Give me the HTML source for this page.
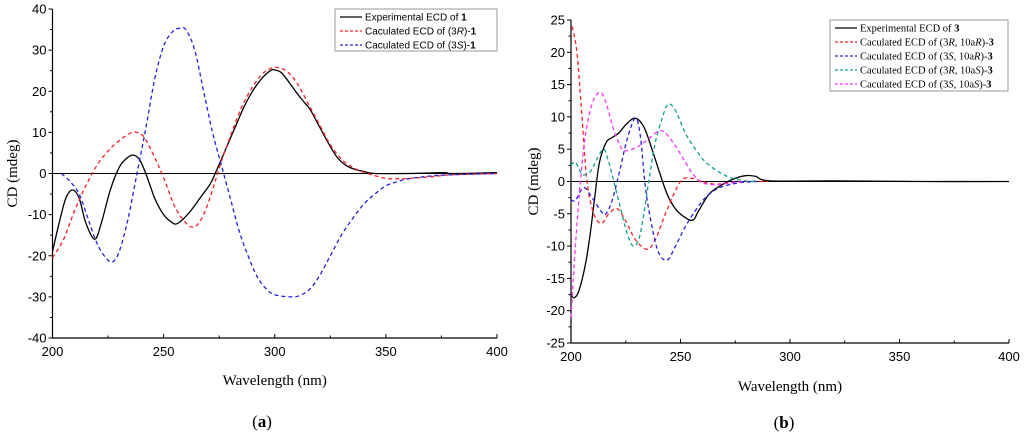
<!DOCTYPE html>
<html><head><meta charset="utf-8"><style>
html,body{margin:0;padding:0;background:#fff;}
svg{display:block;}
.sans{font-family:"Liberation Sans",sans-serif;}
.serif{font-family:"Liberation Serif",serif;}
</style></head><body>
<svg id="fig" width="1024" height="436" viewBox="0 0 1024 436" xmlns="http://www.w3.org/2000/svg">
<g id="pa"></g>
<g id="pb"></g>
</svg>
<script>
// Panel (a)
const aExpX=[200,203,206,209,212,215,219,222,226,230,233,236,239,242,246,250,254,256,259,263,267,271,274,278,282,286,290,294,298,300,303,306,310,313,316,320,324,328,332,336,340,345,360,376,380,400];
const aExpY=[-19,-12,-6,-4,-6,-12,-16,-12,-4,1.5,3.5,4.5,3.5,0,-6,-10,-12,-12.2,-11,-8.5,-5.5,-2.5,1,6,11,16,20,23,25,25.2,24.5,22.5,19.5,17.5,15.5,11.5,7.5,4,2,1,0.5,0,0,0.2,0,0.2];
const aRX=[200,205,210,215,220,225,230,235,238,241,245,250,255,260,264,268,272,276,280,285,290,295,300,305,310,315,320,325,330,335,340,345,350,355,360,370,380,400];
const aRY=[-20.5,-16,-9,-3,2,5.5,8,9.8,10,9,5,-1,-8,-12,-13,-10,-4,3,9,16,21,24.5,25.8,25,22,17,12,7,3.5,1.5,0.3,-0.5,-1.2,-1.3,-1.2,-0.8,-0.3,0];
const aSX=[204,208,212,216,220,224,227,230,234,238,242,246,250,254,257,260,264,268,272,276,280,284,288,292,296,300,308,312,316,320,325,330,335,340,345,350,355,360,370,380,400];
const aSY=[0,-2,-5,-11,-17,-20.5,-21.5,-19,-11,0,11,23,31,34.5,35.3,35,30,20,10,2,-6,-14,-20,-25,-28,-29.5,-30,-29.5,-28,-25,-20,-15,-11,-7.5,-5,-3,-2,-1.3,-0.6,-0.3,0];
const aYTicks=[40,30,20,10,0,-10,-20,-30,-40];
const aXTicks=[200,250,300,350,400];
// Panel (b)
const bExpX=[200,201.4,203.5,206.5,208.8,211,213,216,218.7,221.8,225.6,229.4,233.2,237,240.8,244.6,249.2,255.3,258.3,262.9,267.5,273.6,279.7,284.2,291,320,360,400];
const bExpY=[-17.5,-18,-17,-13,-8,-2,3,6,6.8,7.5,9,9.8,8.5,5,1,-2.5,-4.8,-6,-4.5,-2,-0.8,0.3,0.9,0.8,0.1,0.1,0,0];
const bRRX=[200.5,202.7,205,207.3,210.4,213.9,217.2,221,224.8,229.4,234.7,238.5,243.1,246.9,250.7,255.3,259.9,266,273.6,280,290];
const bRRY=[24,20,10,0,-5,-6.5,-5,-4.2,-6,-9,-10.5,-9,-5,-2,0.3,0.5,0,-0.4,-0.2,0,0];
const bSRX=[200,202,204.3,206.5,209.6,214.2,216,218.7,221.8,225.6,229.4,231.7,234,237,240,243.9,247.7,252.2,256.8,261.4,267.5,276.6,285];
const bSRY=[-2.8,-3,-1.5,-1,-2.5,-4.8,-5,-3,1,6.5,9.8,7,-1,-7,-11,-12.2,-10,-7,-4.5,-2.5,-1,-0.2,0];
const bRSX=[200,202,204.3,205.8,208.8,211.9,214.9,217.2,221.8,225.6,228.6,231.7,235.5,238.5,242.3,244.6,247.7,252.2,256.8,261.4,267.5,273.6,279.7,285];
const bRSY=[2.5,3,1.5,1,1.5,3.5,5,3,-3,-8,-10,-8,0,6,10.5,12,11,7.5,5,3,1.5,0.5,0.1,0];
const bSSX=[200,202,204.3,206.5,209.6,213,215.7,219.5,223.3,225.6,229.4,234,240,243.1,247.7,252.2,256,259.9,266,272,280];
const bSSY=[-21,-10,0,7,12,13.8,12.5,8,5,4.8,5.2,6.2,7.8,7.5,5.5,3,1,-0.2,-0.5,-0.2,0];
const bYTicks=[25,20,15,10,5,0,-5,-10,-15,-20,-25];
const bXTicks=[200,250,300,350,400];

const NS='http://www.w3.org/2000/svg';
function mk(parent,tag,attrs,text){const e=document.createElementNS(NS,tag);for(const k in attrs)e.setAttribute(k,attrs[k]);if(text!==undefined)e.textContent=text;parent.appendChild(e);return e;}
function spline(pts){let d='M'+pts[0][0].toFixed(1)+','+pts[0][1].toFixed(1);
 for(let i=0;i<pts.length-1;i++){const p0=pts[Math.max(0,i-1)],p1=pts[i],p2=pts[i+1],p3=pts[Math.min(pts.length-1,i+2)];
  const c1=[p1[0]+(p2[0]-p0[0])/6,p1[1]+(p2[1]-p0[1])/6],c2=[p2[0]-(p3[0]-p1[0])/6,p2[1]-(p3[1]-p1[1])/6];
  d+=' C'+c1[0].toFixed(1)+','+c1[1].toFixed(1)+' '+c2[0].toFixed(1)+','+c2[1].toFixed(1)+' '+p2[0].toFixed(1)+','+p2[1].toFixed(1);}
 return d;}

function panel(g,o){
 const xs=v=>o.x0+(v-200)/200*(o.x1-o.x0);
 const ys=v=>o.y0+(o.yMax-v)/(o.yMax-o.yMin)*(o.y1-o.y0);
 let e=mk(g,'line',{x1:o.x0,y1:o.y0,x2:o.x0,y2:o.y1,stroke:'#000','stroke-width':1.2});
 
 
 e=mk(g,'line',{x1:o.x0,y1:o.y1,x2:o.x1,y2:o.y1,stroke:'#000','stroke-width':1.2});
 
 
 e=mk(g,'line',{x1:o.x0,y1:ys(0),x2:o.x1,y2:ys(0),stroke:'#000','stroke-width':1});
 
 
 const ystep=o.yTicks[0]-o.yTicks[1];
 o.yTicks.forEach((t,i)=>{const y=ys(t);
  mk(g,'line',{x1:o.x0-4,y1:y,x2:o.x0,y2:y,stroke:'#000'});
  if(i<o.yTicks.length-1)mk(g,'line',{x1:o.x0-2.5,y1:ys(t-ystep/2),x2:o.x0,y2:ys(t-ystep/2),stroke:'#000'});
  e=mk(g,'text',{x:o.x0-6,y:y+4.5,'text-anchor':'end','font-size':13,class:'sans'},String(t));
  
  });
 o.xTicks.forEach((t,i)=>{const x=xs(t);
  mk(g,'line',{x1:x,y1:o.y1,x2:x,y2:o.y1-4,stroke:'#000'});
  if(i<o.xTicks.length-1)mk(g,'line',{x1:xs(t+25),y1:o.y1,x2:xs(t+25),y2:o.y1-2.5,stroke:'#000'});
  e=mk(g,'text',{x:x,y:o.y1+18,'text-anchor':'middle','font-size':13,class:'sans'},String(t));
  
  });
 e=mk(g,'text',{x:(o.x0+o.x1)/2,y:o.xLabelY,'text-anchor':'middle','font-size':15,class:'serif'},'Wavelength (nm)');
 
 
 e=mk(g,'text',{x:o.yLabelX,y:(o.y0+o.y1)/2,'text-anchor':'middle','font-size':15,class:'serif',transform:'rotate(-90 '+o.yLabelX+' '+(o.y0+o.y1)/2+')'},'CD (mdeg)');
 
 
 e=mk(g,'text',{x:o.capX,y:o.capY,'text-anchor':'middle','font-size':17,class:'serif'});
 e.innerHTML='(<tspan font-weight="bold">'+o.cap+'</tspan>)';
 
 
 o.series.forEach(s=>{const pts=s.x.map((v,i)=>[xs(v),ys(s.y[i])]);
  const p=mk(g,'path',{d:spline(pts),fill:'none',stroke:s.c,'stroke-width':1.3,'stroke-dasharray':s.dash?'4,3':'none'});
  
  });
 const L=o.leg;
 const lg=mk(g,'g',{});
 
 
 mk(lg,'rect',{x:L.x,y:L.y,width:L.w,height:L.h,fill:'#fff',stroke:'#999','stroke-width':1});
 o.series.forEach((s,i)=>{const y=L.y+L.dy*(i+0.5)+1;
  mk(lg,'line',{x1:L.x+5,y1:y,x2:L.x+27,y2:y,stroke:s.c,'stroke-width':1.3,'stroke-dasharray':s.dash?'3,2':'none'});
  const t=mk(lg,'text',{x:L.x+30,y:y+3.5,'font-size':L.fs,class:L.font});
  t.innerHTML=s.label;
  
  });
}

panel(document.getElementById('pa'),{x0:52.5,x1:497,y0:9,y1:338,yMax:40,yMin:-40,yTicks:aYTicks,xTicks:aXTicks,
 xLabelY:385,yLabelX:17,cap:'a',capX:262,capY:427,
 leg:{x:335,y:9,w:162,h:42,dy:14,fs:10,font:'sans'},
 series:[
  {name:'experimental-ecd-1',x:aExpX,y:aExpY,c:'#000',dash:false,label:'Experimental ECD of <tspan font-weight="bold">1</tspan>'},
  {name:'calculated-ecd-3R-1',x:aRX,y:aRY,c:'#ff2020',dash:true,label:'Caculated ECD of (3<tspan font-style="italic">R</tspan>)-<tspan font-weight="bold">1</tspan>'},
  {name:'calculated-ecd-3S-1',x:aSX,y:aSY,c:'#2020e0',dash:true,label:'Caculated ECD of (3<tspan font-style="italic">S</tspan>)-<tspan font-weight="bold">1</tspan>'}]});

panel(document.getElementById('pb'),{x0:571,x1:1009,y0:20,y1:343,yMax:25,yMin:-25,yTicks:bYTicks,xTicks:bXTicks,
 xLabelY:391,yLabelX:538,cap:'b',capX:784,capY:428,
 leg:{x:830,y:20,w:178,h:71,dy:14,fs:10.5,font:'serif'},
 series:[
  {name:'experimental-ecd-3',x:bExpX,y:bExpY,c:'#000',dash:false,label:'Experimental ECD of <tspan font-weight="bold">3</tspan>'},
  {name:'calculated-ecd-3R-10aR',x:bRRX,y:bRRY,c:'#ff2020',dash:true,label:'Caculated ECD of (3<tspan font-style="italic">R</tspan>, 10a<tspan font-style="italic">R</tspan>)-<tspan font-weight="bold">3</tspan>'},
  {name:'calculated-ecd-3S-10aR',x:bSRX,y:bSRY,c:'#2020e0',dash:true,label:'Caculated ECD of (3<tspan font-style="italic">S</tspan>, 10a<tspan font-style="italic">R</tspan>)-<tspan font-weight="bold">3</tspan>'},
  {name:'calculated-ecd-3R-10aS',x:bRSX,y:bRSY,c:'#10a090',dash:true,label:'Caculated ECD of (3<tspan font-style="italic">R</tspan>, 10a<tspan font-style="italic">S</tspan>)-<tspan font-weight="bold">3</tspan>'},
  {name:'calculated-ecd-3S-10aS',x:bSSX,y:bSSY,c:'#ff30ff',dash:true,label:'Caculated ECD of (3<tspan font-style="italic">S</tspan>, 10a<tspan font-style="italic">S</tspan>)-<tspan font-weight="bold">3</tspan>'}]});
</script>
</body></html>
